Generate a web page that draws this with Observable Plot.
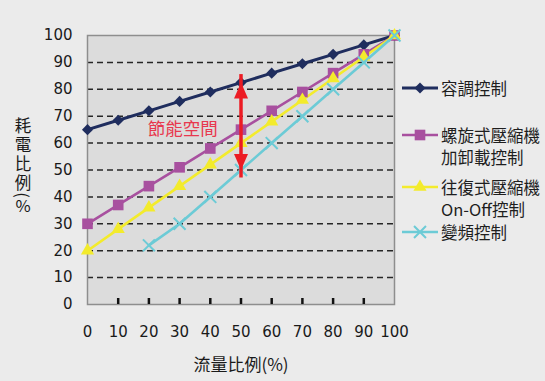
<!DOCTYPE html>
<html><head><meta charset="utf-8">
<script src="https://cdn.jsdelivr.net/npm/d3@7"></script>
<script src="https://cdn.jsdelivr.net/npm/@observablehq/plot@0.6"></script>
<style>
html,body{margin:0;padding:0;background:#ebebeb;}
#wrap{position:relative;width:545px;height:381px;overflow:hidden;background:#ebebeb;}
.lg{position:absolute;left:441px;font-family:"Noto Sans CJK TC","Noto Sans";font-size:16.5px;color:#1e1e1e;line-height:22px;white-space:pre;}
.sw{position:absolute;left:402px;}
#ylab{position:absolute;left:8px;top:115.5px;width:30px;text-align:center;font-family:"Noto Sans CJK TC";font-size:16.5px;color:#1a1a1a;}
#ylab div{line-height:19px;height:19px;}
#ylab div.paren{height:6px;line-height:6px;transform:rotate(90deg);}
#ylab div.pct{height:14px;line-height:14px;}
</style></head><body><div id="wrap"></div>
<script>
// ---- data ----
const flow = [0,10,20,30,40,50,60,70,80,90,100];
const seriesNames = ["容調控制","螺旋式壓縮機\n加卸載控制","往復式壓縮機\nOn-Off控制","變頻控制"];
const capacityCtrl = [65,68.5,72,75.5,79,82.5,86,89.5,93,96.5,100];
const screwLoadUnload = [30,37,44,51,58,65,72,79,86,93,100];
const reciprocatingOnOff = [20,28,36,44,52,60,68,76,84,92,100];
const inverterCtrl = [null,null,22,30,40,50,60,70,80,90,100];
const yTicks = [0,10,20,30,40,50,60,70,80,90,100];
const xTicks = [0,10,20,30,40,50,60,70,80,90,100];
const xLabel = "流量比例(%)";
const yLabel = ["耗","電","比","例","(","%"];
const gapLabel = "節能空間";
const gapAt = [{x:50, y1:50, y2:82.5}];
const gapLabelPos = [{x:31, y:65}];

// ---- styles ----
const colors = ["#1f2d5e","#a8509f","#f3eb2c","#6ccbd6"];
const symbols = ["diamond2","square","triangle","times"];
const radii = [5,6,4.9,5.5];
const seriesVals = [capacityCtrl, screwLoadUnload, reciprocatingOnOff, inverterCtrl];

const rows = [];
seriesNames.forEach((s,k)=>flow.forEach((x,i)=>{ if (seriesVals[k][i]!=null) rows.push({series:s, x, y:seriesVals[k][i]}); }));

const red = "#ec1c24";
const head = {draw(ctx){ const h=16, w=14; ctx.moveTo(0,0); ctx.lineTo(w/2,h); ctx.lineTo(-w/2,h); ctx.closePath(); }};

const seriesMarks = [];
seriesNames.forEach((s,k)=>{
  const d = rows.filter(r=>r.series===s);
  seriesMarks.push(Plot.line(d,{x:"x",y:"y",stroke:colors[k],strokeWidth:k===0?3:2.6}));
});
seriesNames.forEach((s,k)=>{
  const d = rows.filter(r=>r.series===s);
  if (symbols[k]==="times") seriesMarks.push(Plot.dot(d,{x:"x",y:"y",symbol:"times",r:radii[k],stroke:colors[k],strokeWidth:2}));
  else seriesMarks.push(Plot.dot(d,{x:"x",y:"y",symbol:symbols[k],r:radii[k],fill:colors[k],stroke:"none"}));
});

const chart = Plot.plot({
  width:545, height:381,
  marginLeft:87, marginRight:151, marginTop:35, marginBottom:77,
  style:{background:"transparent", color:"#1a1a1a"},
  x:{domain:[0,100]},
  y:{domain:[0,100]},
  marks:[
    Plot.frame({fill:"#dcdcdc", stroke:"none"}),
    Plot.gridY(yTicks.slice(1,-1),{stroke:"#262626",strokeOpacity:1,strokeDasharray:"6,4",strokeWidth:1.5}),
    Plot.frame({stroke:"#8e8e8e", strokeWidth:1.5}),
    Plot.axisX(xTicks.slice(1,-1),{tickSize:6, dy:-6, stroke:"#111", strokeWidth:2.5, tickFormat:()=>"", label:null}),
    Plot.axisY(yTicks,{tickSize:0,tickPadding:15,fontSize:15,fontFamily:"DejaVu Sans",fill:"#1a1a1a",label:null}),
    Plot.axisX(xTicks,{tickSize:0,tickPadding:22,fontSize:15,fontFamily:"DejaVu Sans",fill:"#1a1a1a",label:null}),
    ...seriesMarks,
    Plot.ruleX(gapAt,{x:"x",y1:"y1",y2:"y2",stroke:red,strokeWidth:3.5,insetTop:8,insetBottom:8}),
    Plot.dot(gapAt,{x:"x",y:"y2",symbol:head,fill:red,stroke:"none"}),
    Plot.dot(gapAt,{x:"x",y:"y1",symbol:head,fill:red,stroke:"none",rotate:180}),
    Plot.text(gapLabelPos,{x:"x",y:"y",text:()=>gapLabel,fill:"#e8384e",fontSize:17.5,fontFamily:"Noto Sans CJK TC"}),
    Plot.text([xLabel],{text:d=>d,frameAnchor:"bottom",dy:66,fontSize:17,fontFamily:"Noto Sans CJK TC",fill:"#1a1a1a"})
  ]
});
const wrap = document.getElementById("wrap");
wrap.appendChild(chart);

const yl = document.createElement("div");
yl.id = "ylab";
yLabel.forEach((c,i)=>{
  const d = document.createElement("div");
  d.textContent = c;
  if (c==="(") d.className="paren";
  if (c==="%") d.className="pct";
  yl.appendChild(d);
});
wrap.appendChild(yl);

// ---- legend ----
const legendY = [88,135,187,232];
seriesNames.forEach((s,k)=>{
  const t = document.createElement("div");
  t.className="lg"; t.textContent=s; t.style.top=(legendY[k]-11)+"px";
  wrap.appendChild(t);
  const svg = d3.create("svg").attr("class","sw").attr("width",38).attr("height",16)
    .style("top",(legendY[k]-8)+"px");
  svg.append("line").attr("x1",0).attr("x2",36).attr("y1",8).attr("y2",8)
    .attr("stroke",colors[k]).attr("stroke-width",k===0?3:2.6);
  const symMap = {diamond2:d3.symbolDiamond2, square:d3.symbolSquare, triangle:d3.symbolTriangle, times:d3.symbolTimes};
  const p = svg.append("path").attr("transform","translate(18,8)")
    .attr("d", d3.symbol(symMap[symbols[k]], Math.PI*radii[k]*radii[k])());
  if (symbols[k]==="times") p.attr("fill","none").attr("stroke",colors[k]).attr("stroke-width",2);
  else p.attr("fill",colors[k]);
  wrap.appendChild(svg.node());
});
</script></body></html>
